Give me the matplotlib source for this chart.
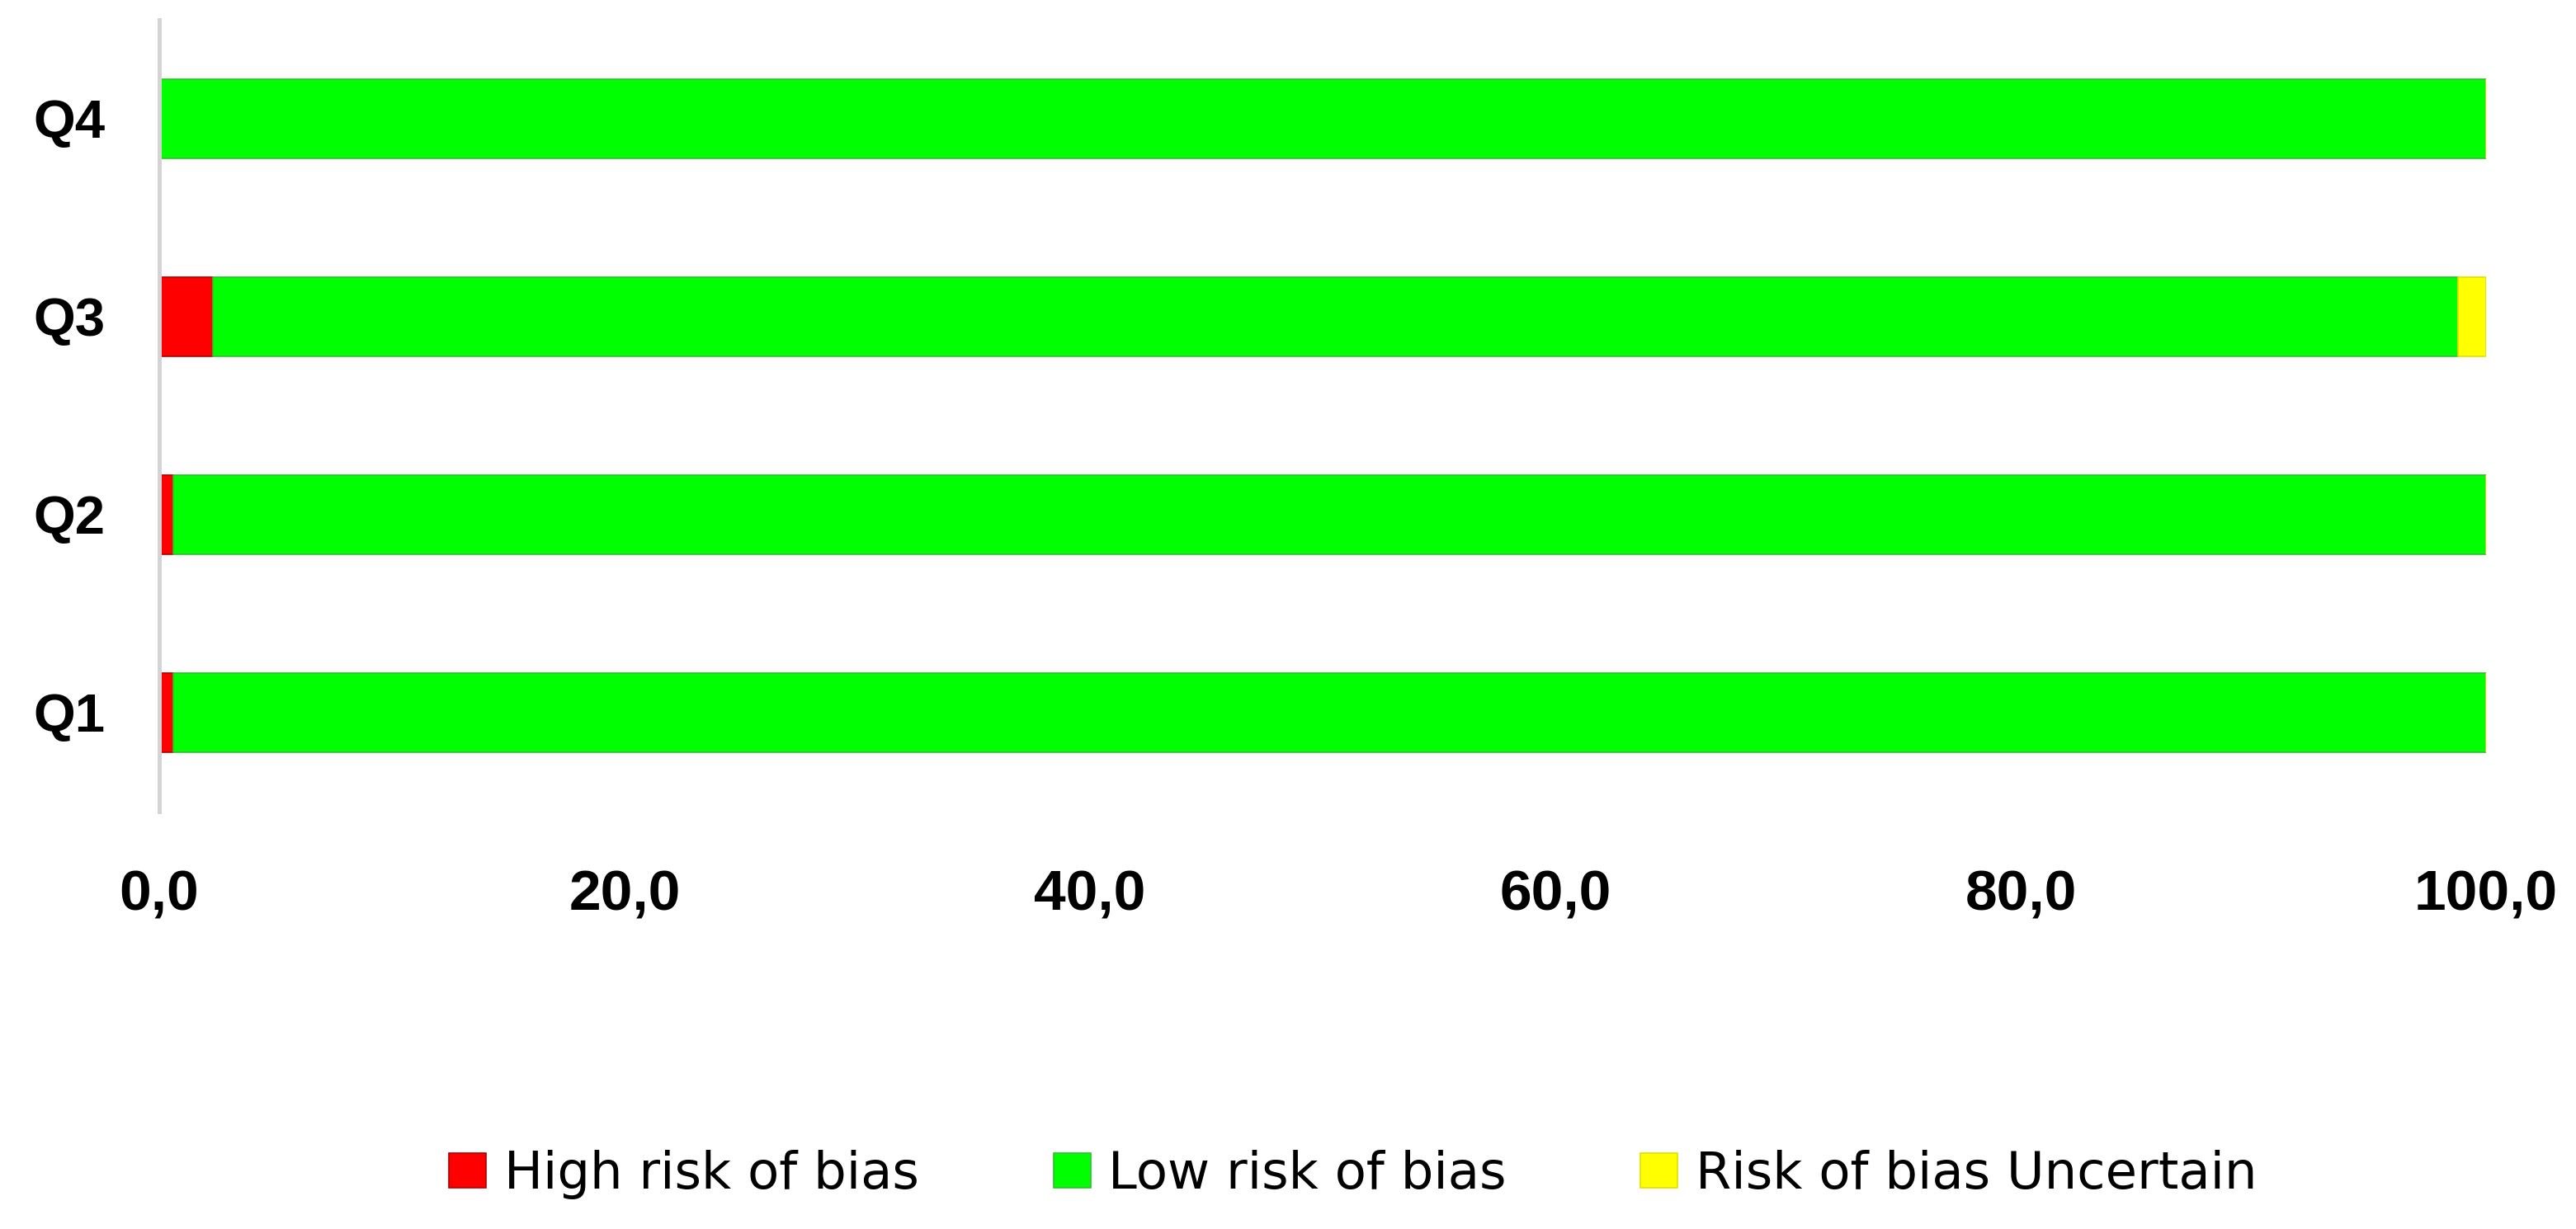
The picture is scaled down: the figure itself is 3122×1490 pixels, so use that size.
import matplotlib
matplotlib.use("Agg")
import matplotlib.pyplot as plt
import numpy as np

# data (percent of studies)
questions = ["Q1", "Q2", "Q3", "Q4"]
high_risk = [0.6, 0.6, 2.3, 0.0]
low_risk = [99.4, 99.4, 96.5, 100.0]
uncertain = [0.0, 0.0, 1.2, 0.0]
series_names = ["High risk of bias", "Low risk of bias", "Risk of bias Uncertain"]
x_ticks = [0, 20, 40, 60, 80, 100]
x_tick_labels = ["0,0", "20,0", "40,0", "60,0", "80,0", "100,0"]

fill_colors = ["#ff0000", "#00ff00", "#ffff00"]
edge_colors = ["#b00000", "#30c030", "#e0e000"]

fig = plt.figure(figsize=(31.22, 14.90), dpi=100)
ax = fig.add_axes([0.0618, 0.3396, 0.9651 - 0.0618, 0.9839 - 0.3396])

y = np.arange(len(questions))
left = np.zeros(len(questions))
for vals, name, fc, ec in zip([high_risk, low_risk, uncertain], series_names, fill_colors, edge_colors):
    vals = np.array(vals)
    ax.barh(y, vals, left=left, height=0.4, color=fc, edgecolor=ec,
            linewidth=1.2, label=name)
    left = left + vals

ax.set_xlim(0, 100)
ax.set_ylim(-0.5, len(questions) - 0.5)
ax.set_yticks(y)
ax.set_yticklabels(questions, fontsize=47, fontweight="bold", family="Liberation Sans")
ax.set_xticks(x_ticks)
ax.set_xticklabels(x_tick_labels, fontsize=50, fontweight="bold", family="Liberation Sans")
ax.tick_params(axis="y", length=0, pad=47)
ax.tick_params(axis="x", length=0, pad=50)

for s in ["top", "right", "bottom"]:
    ax.spines[s].set_visible(False)
ax.spines["left"].set_color("#d4d4d4")
ax.spines["left"].set_linewidth(3.6)

leg = fig.legend(loc="center", bbox_to_anchor=(1640 / 3122, 1 - 1424 / 1490), ncol=3,
                 frameon=False, prop={"family": "DejaVu Sans", "size": 45},
                 handlelength=0.72, handleheight=0.65, handletextpad=0.35,
                 columnspacing=2.6)

fig.savefig("out.png", dpi=100, facecolor="white")
